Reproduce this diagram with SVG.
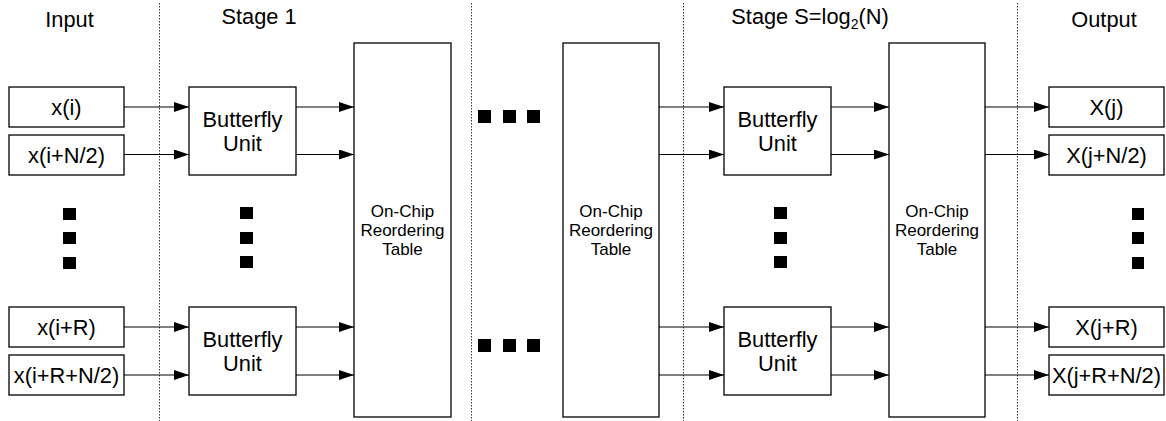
<svg xmlns="http://www.w3.org/2000/svg" width="1166" height="421" viewBox="0 0 1166 421">
<style>
text{font-family:"Liberation Sans",Arial,sans-serif;fill:#000;text-anchor:middle}
.t{font-size:21.8px}
.s{font-size:17px}
.box{fill:#fff;stroke:#000;stroke-width:1.3}
.sep{stroke:#333;stroke-width:1;stroke-dasharray:1.5 1.5;fill:none}
.c{stroke:#000;stroke-width:1;fill:none;marker-end:url(#ah)}
.dot{fill:#000}
</style>
<defs>
<marker id="ah" markerUnits="userSpaceOnUse" markerWidth="15" markerHeight="10" refX="15" refY="5" orient="auto">
<path d="M0,0 L15,5 L0,10 z" fill="#000"/>
</marker>
</defs>
<g id="separators">
<line class="sep" x1="159.5" y1="3" x2="159.5" y2="421"/>
<line class="sep" x1="471.5" y1="3" x2="471.5" y2="421"/>
<line class="sep" x1="683.5" y1="3" x2="683.5" y2="421"/>
<line class="sep" x1="1017.5" y1="3" x2="1017.5" y2="421"/>
</g>
<g id="headers">
<text class="t" x="69.5" y="27">Input</text>
<text class="t" x="259" y="23.5">Stage 1</text>
<text class="t" x="810" y="23.5">Stage S=log<tspan font-size="14px" dy="5">2</tspan><tspan dy="-5">(N)</tspan></text>
<text class="t" x="1104" y="27">Output</text>
</g>
<g id="connectors">
<line class="c" x1="124" y1="107" x2="189" y2="107"/>
<line class="c" x1="124" y1="154.5" x2="189" y2="154.5"/>
<line class="c" x1="124" y1="327" x2="189" y2="327"/>
<line class="c" x1="124" y1="375" x2="189" y2="375"/>
<line class="c" x1="296" y1="107" x2="354" y2="107"/>
<line class="c" x1="296" y1="154.5" x2="354" y2="154.5"/>
<line class="c" x1="296" y1="327" x2="354" y2="327"/>
<line class="c" x1="296" y1="375" x2="354" y2="375"/>
<line class="c" x1="659" y1="107" x2="724" y2="107"/>
<line class="c" x1="659" y1="154.5" x2="724" y2="154.5"/>
<line class="c" x1="659" y1="327" x2="724" y2="327"/>
<line class="c" x1="659" y1="375" x2="724" y2="375"/>
<line class="c" x1="831" y1="107" x2="889" y2="107"/>
<line class="c" x1="831" y1="154.5" x2="889" y2="154.5"/>
<line class="c" x1="831" y1="327" x2="889" y2="327"/>
<line class="c" x1="831" y1="375" x2="889" y2="375"/>
<line class="c" x1="985" y1="107" x2="1049" y2="107"/>
<line class="c" x1="985" y1="154.5" x2="1049" y2="154.5"/>
<line class="c" x1="985" y1="327" x2="1049" y2="327"/>
<line class="c" x1="985" y1="375" x2="1049" y2="375"/>
</g>
<g id="in0"><rect class="box" x="9" y="87" width="115" height="40"/><text class="t" x="66.5" y="114.5">x(i)</text></g>
<g id="in1"><rect class="box" x="9" y="135" width="115" height="40"/><text class="t" x="66.5" y="162.5">x(i+N/2)</text></g>
<g id="in2"><rect class="box" x="9" y="307" width="115" height="40"/><text class="t" x="66.5" y="334.5">x(i+R)</text></g>
<g id="in3"><rect class="box" x="9" y="355" width="115" height="40"/><text class="t" x="66.5" y="382.5">x(i+R+N/2)</text></g>
<g id="bf1a"><rect class="box" x="189" y="87" width="107" height="88"/><text class="t" x="242.5" y="126.5">Butterfly</text><text class="t" x="242.5" y="150.5">Unit</text></g>
<g id="bf1b"><rect class="box" x="189" y="307" width="107" height="88"/><text class="t" x="242.5" y="346.5">Butterfly</text><text class="t" x="242.5" y="370.5">Unit</text></g>
<g id="rt1"><rect class="box" x="354" y="43" width="97" height="374"/><text class="s" x="402.5" y="217">On-Chip</text><text class="s" x="402.5" y="236">Reordering</text><text class="s" x="402.5" y="255">Table</text></g>
<g id="rt2"><rect class="box" x="563" y="43" width="96" height="374"/><text class="s" x="611" y="217">On-Chip</text><text class="s" x="611" y="236">Reordering</text><text class="s" x="611" y="255">Table</text></g>
<g id="bfSa"><rect class="box" x="724" y="87" width="107" height="88"/><text class="t" x="777.5" y="126.5">Butterfly</text><text class="t" x="777.5" y="150.5">Unit</text></g>
<g id="bfSb"><rect class="box" x="724" y="307" width="107" height="88"/><text class="t" x="777.5" y="346.5">Butterfly</text><text class="t" x="777.5" y="370.5">Unit</text></g>
<g id="rt3"><rect class="box" x="889" y="43" width="96" height="374"/><text class="s" x="937" y="217">On-Chip</text><text class="s" x="937" y="236">Reordering</text><text class="s" x="937" y="255">Table</text></g>
<g id="out0"><rect class="box" x="1049" y="87" width="115" height="40"/><text class="t" x="1106.5" y="114.5">X(j)</text></g>
<g id="out1"><rect class="box" x="1049" y="135" width="115" height="40"/><text class="t" x="1106.5" y="162.5">X(j+N/2)</text></g>
<g id="out2"><rect class="box" x="1049" y="307" width="115" height="40"/><text class="t" x="1106.5" y="334.5">X(j+R)</text></g>
<g id="out3"><rect class="box" x="1049" y="355" width="115" height="40"/><text class="t" x="1106.5" y="382.5">X(j+R+N/2)</text></g>
<g id="dots">
<rect class="dot" x="63" y="208" width="13" height="12"/><rect class="dot" x="63" y="232" width="13" height="12"/><rect class="dot" x="63" y="257" width="13" height="12"/>
<rect class="dot" x="240" y="207" width="13" height="12"/><rect class="dot" x="240" y="232" width="13" height="12"/><rect class="dot" x="240" y="256" width="13" height="12"/>
<rect class="dot" x="774" y="207" width="13" height="12"/><rect class="dot" x="774" y="232" width="13" height="12"/><rect class="dot" x="774" y="256" width="13" height="12"/>
<rect class="dot" x="1132" y="208" width="12" height="12"/><rect class="dot" x="1132" y="232" width="12" height="12"/><rect class="dot" x="1132" y="257" width="12" height="12"/>
<rect class="dot" x="478" y="110" width="13" height="13"/><rect class="dot" x="503" y="110" width="13" height="13"/><rect class="dot" x="527" y="110" width="13" height="13"/>
<rect class="dot" x="478" y="339" width="13" height="13"/><rect class="dot" x="503" y="339" width="13" height="13"/><rect class="dot" x="527" y="339" width="13" height="13"/>
</g>
</svg>
